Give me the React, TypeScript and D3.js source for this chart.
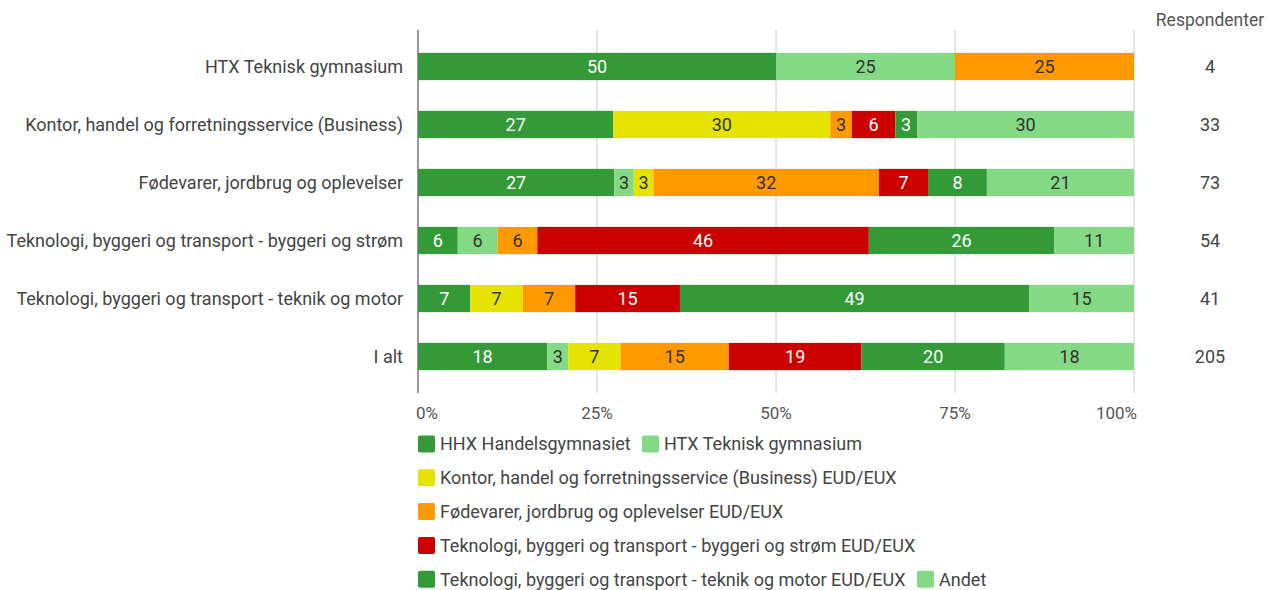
import React from "react";
import * as d3 from "d3";

const rows = [
  "HTX Teknisk gymnasium",
  "Kontor, handel og forretningsservice (Business)",
  "Fødevarer, jordbrug og oplevelser",
  "Teknologi, byggeri og transport - byggeri og strøm",
  "Teknologi, byggeri og transport - teknik og motor",
  "I alt",
];

const seriesNames = [
  "HHX Handelsgymnasiet",
  "HTX Teknisk gymnasium",
  "Kontor, handel og forretningsservice (Business) EUD/EUX",
  "Fødevarer, jordbrug og oplevelser EUD/EUX",
  "Teknologi, byggeri og transport - byggeri og strøm EUD/EUX",
  "Teknologi, byggeri og transport - teknik og motor EUD/EUX",
  "Andet",
];

const colors = ["#339a37", "#84d984", "#e6e300", "#ff9900", "#cc0000", "#339a37", "#84d984"];
const darkSeries = [true, false, false, false, true, true, false];

// antal svar per række, i seriernes rækkefølge
const hhx = [2, 9, 20, 3, 3, 37];
const htx = [1, 0, 2, 3, 0, 6];
const kontor = [0, 10, 2, 0, 3, 15];
const foedevarer = [1, 1, 23, 3, 3, 31];
const byggeri = [0, 2, 5, 25, 6, 38];
const motor = [0, 1, 6, 14, 20, 41];
const andet = [0, 10, 15, 6, 6, 37];

const respondenter = [4, 33, 73, 54, 41, 205];
const ticks = [0, 0.25, 0.5, 0.75, 1];

const legendRows = [[0, 1], [2], [3], [4], [5, 6]];

const W = 1268;
const H = 590;
const FONT = "Roboto, sans-serif";
const FS = 18;

export default function App() {
  const series = [hhx, htx, kontor, foedevarer, byggeri, motor, andet];

  const x = d3.scaleLinear().domain([0, 1]).range([418, 1134]);
  const y = d3
    .scaleBand()
    .domain(rows)
    .range([37.5, 385.5])
    .paddingInner(0.53)
    .paddingOuter(0.265);

  const table = rows.map((r, i) => {
    const obj: any = { row: r };
    series.forEach((s, k) => (obj[k] = s[i] / respondenter[i]));
    return obj;
  });
  const stacked = d3.stack<any>().keys(series.map((_, k) => String(k)))(table);

  const legendX = [418, 642];

  return (
    <svg
      width={W}
      height={H}
      style={{ position: "absolute", left: 0, top: 0, background: "#fff" }}
      fontFamily={FONT}
    >
      <g>
        {ticks.map((t) => (
          <line
            key={t}
            x1={x(t)}
            x2={x(t)}
            y1={30}
            y2={393}
            stroke={t === 0 ? "#333" : "#ccc"}
            strokeWidth={1}
          />
        ))}
        {ticks.map((t, i) => (
          <text
            key={t}
            x={i === 0 ? x(t) - 2 : i === ticks.length - 1 ? x(t) + 3 : x(t)}
            y={413}
            dy="0.35em"
            fontSize={17}
            fill="#555"
            textAnchor={i === 0 ? "start" : i === ticks.length - 1 ? "end" : "middle"}
          >
            {d3.format(".0%")(t)}
          </text>
        ))}
      </g>

      <g>
        {stacked.map((layer, k) =>
          layer.map((d, i) => {
            const w = x(d[1]) - x(d[0]);
            if (w <= 0) return null;
            const yy = y(rows[i])!;
            return (
              <g key={`${k}-${i}`}>
                <rect
                  x={x(d[0])}
                  y={yy}
                  width={w}
                  height={y.bandwidth()}
                  fill={colors[k]}
                />
                <text
                  x={x(d[0]) + w / 2}
                  y={yy + y.bandwidth() / 2}
                  dy="0.36em"
                  textAnchor="middle"
                  fontSize={FS}
                  fill={darkSeries[k] ? "#fff" : "#333"}
                >
                  {Math.round((d[1] - d[0]) * 100)}
                </text>
              </g>
            );
          })
        )}
      </g>

      <g>
        {rows.map((r) => (
          <text
            key={r}
            x={403}
            y={y(r)! + y.bandwidth() / 2}
            dy="0.35em"
            textAnchor="end"
            fontSize={FS}
            fill="#444"
          >
            {r}
          </text>
        ))}
      </g>

      <g>
        <text x={1210} y={20} dy="0.35em" textAnchor="middle" fontSize={FS - 0.5} fill="#555">
          Respondenter
        </text>
        {rows.map((r, i) => (
          <text
            key={r}
            x={1210}
            y={y(r)! + y.bandwidth() / 2}
            dy="0.35em"
            textAnchor="middle"
            fontSize={FS}
            fill="#444"
          >
            {respondenter[i]}
          </text>
        ))}
      </g>

      <g>
        {legendRows.map((items, ri) => {
          const cy = 444 + ri * 33.8;
          return items.map((k, j) => {
            const lx = j === 0 ? legendX[0] : ri === 0 ? legendX[1] : 917;
            return (
              <g key={k}>
                <rect
                  x={lx}
                  y={cy - 8.5}
                  width={17}
                  height={17}
                  rx={2}
                  fill={colors[k]}
                />
                <text x={lx + 22} y={cy} dy="0.35em" fontSize={FS} fill="#444">
                  {seriesNames[k]}
                </text>
              </g>
            );
          });
        })}
      </g>
    </svg>
  );
}
